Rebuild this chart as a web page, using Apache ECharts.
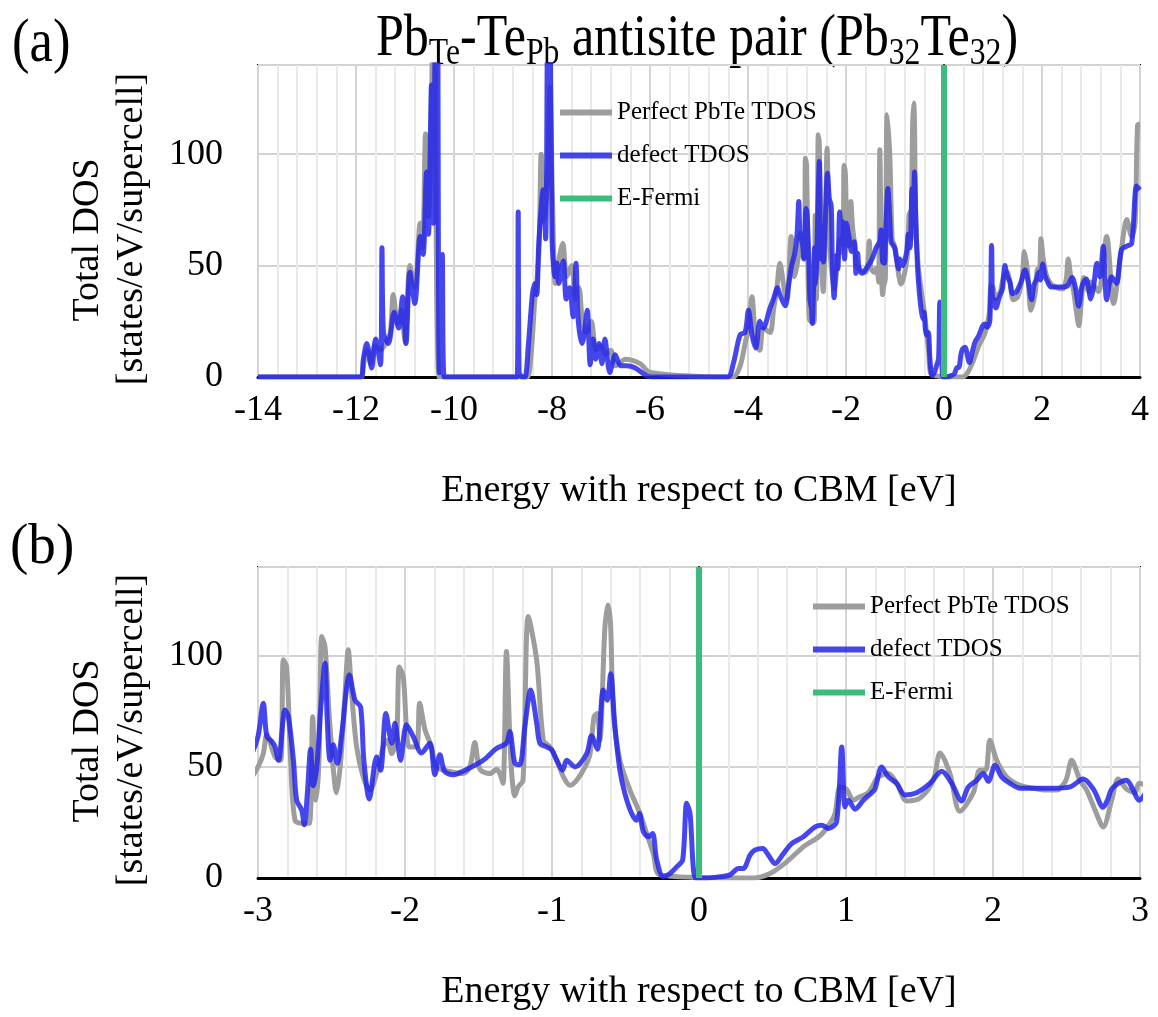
<!DOCTYPE html>
<html><head><meta charset="utf-8">
<script src="https://cdn.jsdelivr.net/npm/echarts@6/dist/echarts.min.js"></script>
<style>html,body{margin:0;padding:0;background:#fff}#c{width:1158px;height:1017px}</style>
</head><body><div id="c"></div>
<script>
// ---------------- data ----------------
const seriesNames = ['Perfect PbTe TDOS', 'defect TDOS', 'E-Fermi'];
const xTicksTop = [-14, -12, -10, -8, -6, -4, -2, 0, 2, 4];
const xTicksBottom = [-3, -2, -1, 0, 1, 2, 3];
const yTicks = [0, 50, 100];
const yMax = 140;
const fermiE = 0;

const perfectE = [-14,-11.9,-11.85,-11.78,-11.7,-11.62,-11.5,-11.4,-11.3,-11.24,-11.15,-11.08,-11.0,-10.9,-10.8,-10.69,-10.64,-10.58,-10.52,-10.45,-10.4,-10.3,
-8.6,-8.5,-8.42,-8.35,-8.3,-8.26,-8.22,-8.16,-8.09,-8.04,-7.99,-7.93,-7.84,-7.78,-7.7,-7.6,-7.52,-7.45,-7.38,-7.3,-7.2,-7.1,-7.0,-6.9,-6.8,-6.7,-6.5,-6.2,-6.0,
-4.4,-4.3,-4.16,-4.05,-3.99,-3.92,-3.84,-3.76,-3.69,-3.55,-3.48,-3.41,-3.35,-3.25,-3.2,-3.12,-3.05,-3.0,
-2.964,-2.94,-2.884,-2.846,-2.828,-2.805,-2.778,-2.748,-2.692,-2.651,-2.628,-2.605,-2.585,-2.566,-2.544,-2.51,-2.465,-2.437,-2.408,-2.386,-2.363,-2.329,-2.284,-2.238,-2.193,-2.148,-2.12,-2.09,-2.057,-2.039,-2.012,-1.971,-1.922,-1.9,-1.865,-1.82,-1.786,-1.695,-1.604,-1.559,-1.525,-1.491,-1.423,-1.378,-1.355,-1.333,-1.31,-1.28,-1.253,-1.23,-1.197,-1.161,-1.104,-1.059,-1.014,-0.968,-0.922,-0.877,-0.832,-0.775,-0.741,-0.714,-0.692,-0.674,-0.64,-0.617,-0.601,-0.583,-0.538,-0.47,-0.401,-0.356,-0.311,-0.265,
0.234,0.37,0.483,0.597,0.71,0.823,0.891,0.925,0.96,1.004,1.05,1.095,1.152,1.22,1.288,1.345,1.413,1.504,1.594,1.64,1.707,1.775,1.866,1.91,1.95,1.979,2.025,2.093,2.184,2.274,2.365,2.433,2.496,2.535,2.592,2.637,2.694,2.75,2.807,2.852,2.909,2.966,2.995,
3.15,3.32,3.46,3.62,3.73,3.83,3.9,3.95,4.0];
const perfectDOS = [0,0,5,12,6,14,12,15,20,37,24,30,16,50,40,69,58,109,72,135,250,0,
0,0,12,35,45,60,100,70,90,130,80,42,55,60,45,50,35,40,25,20,25,12,14,10,12,5,8,6,2,0,
0,5,16,22,36,15,12,22,20,30,40,51,38,35,63,45,50,56,
64.6,54.5,53,98.2,95,53,26,24.6,24.6,72.6,35,53,108.7,104,68,38.4,53,83,102.7,83,59,45.5,39.6,47,59,62,56,63.7,95,90.6,59,59,78.7,67,59,50,48,47,50,61,49,47,48.8,47,42.6,102,53,37,41,44,117.7,98,62,59,53,45.5,41.7,44,50,56,72.6,74,62,113,122.9,113,75.6,53,39.6,29,20,11,1.4,0,
0,2,7.3,14,19,24.6,29,41,40,35,36.6,38.4,45.5,47,42.6,34.7,36,44,56.3,47,30,38.4,48.5,48.5,62,53,45.5,41.7,40.4,39.6,39.6,44,53,44,39.6,30.6,23,35,44.6,40,38.4,42.6,38.4,
63,33,57,70.7,63,69,113,113.5,102];

const defectE = [-14,-11.9,-11.85,-11.78,-11.68,-11.6,-11.5,-11.47,-11.44,-11.34,-11.22,-11.13,-11.05,-10.98,-10.9,-10.8,-10.69,-10.63,-10.56,-10.52,-10.46,-10.42,-10.35,-10.3,-10.24,-10.2,
-8.71,-8.69,-8.67,-8.6,-8.55,-8.48,-8.4,-8.35,-8.31,-8.27,-8.18,-8.13,-8.07,-8.0,-7.94,-7.9,-7.86,-7.77,-7.71,-7.64,-7.57,-7.51,-7.47,-7.39,-7.35,-7.28,-7.22,-7.16,-7.11,-7.04,-6.98,-6.92,-6.82,-6.71,-6.6,-6.48,-6.3,-6.07,-5.98,
-4.42,-4.3,-4.16,-4.06,-3.99,-3.92,-3.84,-3.76,-3.69,-3.55,-3.48,-3.4,-3.35,-3.24,-3.18,-3.11,-3.05,-3.0,
-2.964,-2.94,-2.907,-2.884,-2.861,-2.816,-2.793,-2.759,-2.737,-2.703,-2.685,-2.664,-2.642,-2.624,-2.6,-2.574,-2.544,-2.53,-2.51,-2.488,-2.46,-2.43,-2.378,-2.34,-2.302,-2.28,-2.243,-2.193,-2.166,-2.13,-2.09,-2.068,-2.03,-1.99,-1.944,-1.888,-1.831,-1.797,-1.763,-1.73,-1.672,-1.582,-1.468,-1.378,-1.31,-1.287,-1.253,-1.219,-1.185,-1.145,-1.104,-1.082,-1.036,-1.002,-0.968,-0.928,-0.9,-0.843,-0.764,-0.731,-0.692,-0.651,-0.624,-0.601,-0.572,-0.538,-0.504,-0.458,-0.424,-0.406,-0.379,-0.345,-0.316,-0.288,-0.243,-0.197,-0.152,-0.111,-0.084,-0.061,-0.039,-0.02,
0.052,0.143,0.211,0.268,0.302,0.347,0.381,0.433,0.472,0.517,0.574,0.63,0.71,0.79,0.835,0.88,0.936,0.971,0.993,1.016,1.061,1.118,1.175,1.197,1.243,1.288,1.345,1.401,1.481,1.571,1.651,1.719,1.787,1.832,1.889,1.934,1.968,2.014,2.059,2.116,2.184,2.297,2.41,2.524,2.614,2.683,2.75,2.778,2.807,2.852,2.909,2.943,2.995,
3.05,3.12,3.18,3.25,3.32,3.42,3.52,3.62,3.73,3.83,3.93,4.0];
const defectDOS = [0,0,8,15,4,17,5.5,58,20,15,29,22,36,15,47,33,63,55,92,64,131,69,300,2,55,0,
0,74,2,0,0,15,37,42,37,60,84,62,250,63,45,51,42,52,35,40,27,51,27,15,18,30,5.5,17,8,15,6,17,2,10,5,5,4,0.5,0,
0,6,19,20,30,19,13,25,22,31,35,40,37,32,40,50,55,63.7,
78.7,63.7,61.5,59,53,75.6,72.6,53,35,30.6,24,38.4,58,41.5,50,75.6,96.7,72.6,53,60,51.6,65,91.4,80,77,53,35.6,54.5,48.5,74,60.7,69.7,53,69,63.7,56.3,60.7,46.5,55.5,48,46.5,48.8,53,58.3,60.7,66,51.7,51,68,84.6,69.6,60.7,59,57.7,53,48.5,53,50,56,64,58,84.6,80,92,68,48.5,38,29,26,29,21,18.6,20,8.2,0.6,2,5,8.2,33.6,29,5,0,
0,0.6,1.4,4.3,4.3,10.3,12.6,13.3,10.3,6.5,11,15.5,18.6,23,23.8,22.3,25.3,59,32,35,31,35,38.4,40,50,45.5,42.6,37.4,38.4,42.6,48,42.6,34.7,41,44,47,43.5,50.7,45.5,42.6,40.4,40.4,40.4,41,44.6,40,31.8,35,40,42.6,44,41,35,
40,51,45,58.7,34.7,45,42,57,58.7,60,85.7,84];

// ---------------- styling ----------------
const FONT = "'Liberation Serif', 'Times New Roman', serif";
const GRAY = '#9d9d9d', BLUE = 'rgba(38,38,236,0.85)', GREEN = '#3dbd7b';
const pairs = (xs, ys) => xs.map((x, i) => [x, ys[i]]);

const gridBoxes = [
  {left: 258, top: 65, width: 882, height: 312},
  {left: 258, top: 567, width: 882, height: 311}
];

function xAx(idx, ticks) {
  return {
    type: 'value', gridIndex: idx, min: ticks[0], max: ticks[ticks.length - 1], interval: ticks[1] - ticks[0],
    name: 'Energy with respect to CBM [eV]', nameLocation: 'middle', nameGap: 95,
    nameTextStyle: {fontFamily: FONT, fontSize: 38, color: '#000'},
    axisLine: {show: true, onZero: false, lineStyle: {color: '#000', width: 3}},
    axisTick: {show: false},
    axisLabel: {fontFamily: FONT, fontSize: 36, color: '#000', margin: 16, showMinLabel: true, showMaxLabel: true},
    splitLine: {show: true, lineStyle: {color: '#d4d4d4', width: 2}},
    minorTick: {show: false, splitNumber: 5},
    minorSplitLine: {show: true, lineStyle: {color: '#e9e9e9', width: 2}}
  };
}
function yAx(idx) {
  return {
    type: 'value', gridIndex: idx, min: yTicks[0], max: yMax, interval: yTicks[1] - yTicks[0],
    axisLine: {show: true, lineStyle: {color: '#000', width: 2}},
    axisTick: {show: false},
    axisLabel: {fontFamily: FONT, fontSize: 36, color: '#000', margin: 35, showMaxLabel: false},
    splitLine: {show: true, lineStyle: {color: '#d2d2d2', width: 2}}
  };
}
function seriesFor(idx) {
  return [
    {type: 'line', name: seriesNames[0], xAxisIndex: idx, yAxisIndex: idx, data: pairs(perfectE, perfectDOS),
     symbol: 'none', smooth: 0.3, lineStyle: {color: GRAY, width: 5}, itemStyle: {color: GRAY}, z: 3},
    {type: 'line', name: seriesNames[1], xAxisIndex: idx, yAxisIndex: idx, data: pairs(defectE, defectDOS),
     symbol: 'none', smooth: 0.3, lineStyle: {color: BLUE, width: 5}, itemStyle: {color: BLUE}, z: 4},
    {type: 'line', name: seriesNames[2], xAxisIndex: idx, yAxisIndex: idx, data: [[fermiE, yTicks[0]], [fermiE, yMax]],
     symbol: 'none', lineStyle: {color: GREEN, width: 6}, itemStyle: {color: GREEN}, z: 5}
  ];
}
function legendAt(left, top) {
  return {orient: 'vertical', left, top, padding: 0, itemWidth: 52, itemHeight: 6, itemGap: 18, icon: 'rect',
    selectedMode: false, data: seriesNames,
    textStyle: {fontFamily: FONT, fontSize: 25, color: '#000', lineHeight: 25}};
}
function yNames(cy) {
  return [
    {type: 'text', x: 88, y: cy + 19, rotation: Math.PI / 2,
     style: {text: 'Total DOS', font: '38px ' + FONT, fill: '#000', align: 'center', verticalAlign: 'middle'}},
    {type: 'text', x: 132, y: cy + 8, rotation: Math.PI / 2,
     style: {text: '[states/eV/supercell]', font: '38px ' + FONT, fill: '#000', align: 'center', verticalAlign: 'middle'}}
  ];
}

const option = {
  backgroundColor: '#fff',
  animation: false,
  grid: gridBoxes.map(g => Object.assign({show: true, borderColor: '#000', borderWidth: 2, backgroundColor: '#fff'}, g)),
  xAxis: [xAx(0, xTicksTop), xAx(1, xTicksBottom)],
  yAxis: [yAx(0), yAx(1)],
  legend: [legendAt(560, 100), legendAt(813, 594)],
  series: [...seriesFor(0), ...seriesFor(1)],
  graphic: [
    {type: 'text', x: 697, y: 9, scaleX: 0.834,
     style: {text: '{n|Pb}{s|Te}{n|-Te}{s|Pb}{n| antisite pair (Pb}{s|32}{n|Te}{s|32}{n|)}',
       align: 'center', verticalAlign: 'top',
       rich: {
         n: {fontFamily: FONT, fontSize: 60, lineHeight: 60, verticalAlign: 'top', fill: '#000'},
         s: {fontFamily: FONT, fontSize: 38, lineHeight: 64, verticalAlign: 'bottom', fill: '#000'}
       }}},
    {type: 'text', x: 12, y: 14, scaleX: 0.85,
     style: {text: '(a)', font: '62px ' + FONT, fill: '#000', align: 'left', verticalAlign: 'top'}},
    {type: 'text', x: 10, y: 519, scaleX: 0.95,
     style: {text: '(b)', font: '58px ' + FONT, fill: '#000', align: 'left', verticalAlign: 'top'}},
    ...yNames(221),
    ...yNames(722)
  ]
};
const chart = echarts.init(document.getElementById('c'), null, {renderer: 'canvas'});
chart.setOption(option);
</script></body></html>
